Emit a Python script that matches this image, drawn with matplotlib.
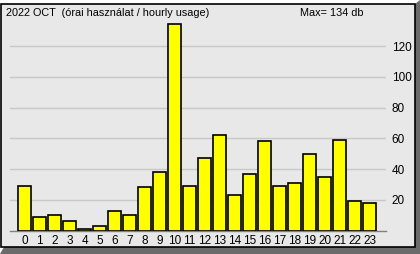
import matplotlib
matplotlib.use("Agg")
import matplotlib.pyplot as plt
from matplotlib.patches import Polygon, Rectangle

plt.rcParams["font.family"] = ["Liberation Sans", "DejaVu Sans"]

hours = list(range(24))
usage = [29, 9, 10, 6, 1, 3, 13, 10, 28, 38, 134, 29, 47, 62, 23, 37, 58, 29, 31, 50, 35, 59, 19, 18]
y_ticks = [20, 40, 60, 80, 100, 120]
title = "2022 OCT  (órai használat / hourly usage)"
max_label = "Max= 134 db"

W, H = 420, 254


def px(x, y):
    return (x / W, (H - y) / H)


def main():
    fig = plt.figure(figsize=(W / 100, H / 100), dpi=100, facecolor="white")

    # window-like frame with shadow
    shadow = Polygon([px(415, 4), px(420, 0), px(420, 254), px(0, 254), px(4, 247)],
                     closed=True, transform=fig.transFigure, facecolor="#6b6b6b",
                     edgecolor="none", zorder=-2)
    fig.patches.append(shadow)
    x0, y0 = px(1, 247)
    panel = Rectangle((x0, y0), 414 / W, 243 / H, transform=fig.transFigure,
                      facecolor="#e8e8e8", edgecolor="black", linewidth=1.2, zorder=-1)
    fig.patches.append(panel)

    fig.text(*px(6, 13), title, fontsize=7.8, va="center", ha="left")
    fig.text(*px(300, 13), max_label, fontsize=7.8, va="center", ha="left")

    left, right = 10, 386
    top, base = 20, 230.5
    ax = fig.add_axes([left / W, (H - base) / H, (right - left) / W, (base - top) / H])
    ax.set_facecolor("none")

    ax.bar(hours, usage, width=0.82, color="#ffff00", edgecolor="black", linewidth=1.2, zorder=3)

    ax.set_xlim(-0.97, 24.1)
    ax.set_ylim(0, (base - top) / 1.5375)
    for t in y_ticks:
        ax.axhline(t, color="#c8c8c8", linewidth=1, zorder=1)

    ax.set_xticks(hours)
    ax.set_xticklabels([str(h) for h in hours], fontsize=8.5)
    ax.yaxis.tick_right()
    ax.set_yticks(y_ticks)
    ax.set_yticklabels([str(t) for t in y_ticks], fontsize=8.5)
    ax.tick_params(axis="both", length=0)
    ax.tick_params(axis="x", pad=3)
    ax.tick_params(axis="y", pad=4)

    for s in ["left", "right", "top"]:
        ax.spines[s].set_visible(False)
    ax.spines["bottom"].set_color("#808080")
    ax.spines["bottom"].set_linewidth(1)

    fig.savefig("out.png", dpi=100)


if __name__ == "__main__":
    main()
